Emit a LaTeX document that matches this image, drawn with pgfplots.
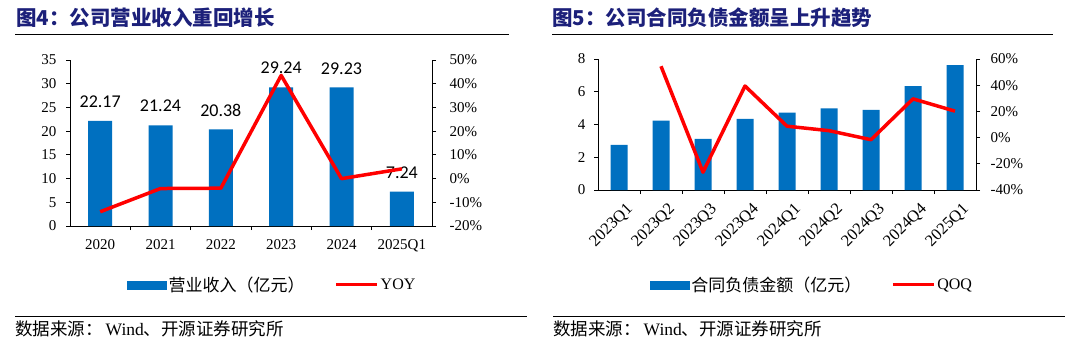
\documentclass[border=0pt]{standalone}
\usepackage{pgfplots}
\pgfplotsset{compat=1.18}
\usepackage{fontspec}
\setmainfont{Liberation Serif}
\newfontfamily\cjk{Noto Sans CJK SC}
\newfontfamily\calib{Carlito}
\definecolor{barblue}{RGB}{0,112,192}
\definecolor{titleblue}{RGB}{28,32,122}
\definecolor{linered}{RGB}{255,0,0}
\pgfplotsset{
  base/.style={scale only axis, anchor=south west, clip=false,
    axis line style={black, line width=0.8pt},
    every tick/.style={black, line width=0.8pt},
    major tick length=4pt, minor tick length=4pt,
    ticklabel style={font=\fontsize{15}{17}\selectfont},
  },
}
\begin{document}
\begin{tikzpicture}
\path[use as bounding box, fill=white] (0pt,0pt) rectangle (1071pt,-346pt);
% titles
\node[anchor=west, inner sep=0pt, text=titleblue, font=\cjk\bfseries\fontsize{20.5}{21}\selectfont] at (16pt,-18pt) {图4：公司营业收入重回增长};
\node[anchor=west, inner sep=0pt, text=titleblue, font=\cjk\bfseries\fontsize{20.5}{21}\selectfont] at (552pt,-18pt) {图5：公司合同负债金额呈上升趋势};
\draw[line width=1pt] (15pt,-34pt) -- (509pt,-34pt);
\draw[line width=1pt] (552pt,-34pt) -- (1053pt,-34pt);
\draw[line width=1pt] (15pt,-316pt) -- (527pt,-316pt);
\draw[line width=1pt] (553pt,-316pt) -- (1065pt,-316pt);
\node[anchor=west, inner sep=0pt, font=\fontsize{17.5}{18}\selectfont] at (15pt,-329pt) {{\cjk 数据来源：}\hspace{3pt}Wind{\cjk 、开源证券研究所}};
\node[anchor=west, inner sep=0pt, font=\fontsize{17.5}{18}\selectfont] at (553pt,-329pt) {{\cjk 数据来源：}\hspace{3pt}Wind{\cjk 、开源证券研究所}};

% ===== left chart: bars =====
\begin{axis}[base, at={(70pt,-226pt)}, width=362pt, height=166pt,
  xmin=-0.5, xmax=5.5, ymin=0, ymax=35,
  axis y line*=left, axis x line*=bottom,
  xtick={0,1,2,3,4,5}, xticklabels={2020,2021,2022,2023,2024,2025Q1},
  xticklabel style={yshift=-6pt},
  yticklabel style={xshift=-6pt},
  major x tick style={draw=none},
  minor xtick={0.5,1.5,2.5,3.5,4.5},
  xtick align=inside, ytick align=outside,
  ytick={0,5,10,15,20,25,30,35}, yticklabels={0,5,10,15,20,25,30,35},
  ybar, bar width=24pt,
  nodes near coords, point meta=explicit symbolic,
  nodes near coords style={font=\calib\fontsize{18}{18}\selectfont, anchor=south, inner sep=0pt, yshift=13pt, text=black},
]
\addplot[fill=barblue, draw=none] coordinates {
  (0,22.17) [22.17]
  (1,21.24) [21.24]
  (2,20.38) [20.38]
  (3,29.24) [29.24]
  (4,29.23) [29.23]
  (5,7.24)  [7.24]
};
\end{axis}
% ===== left chart: YOY line =====
\begin{axis}[base, at={(70pt,-226pt)}, width=362pt, height=166pt,
  xmin=-0.5, xmax=5.5, ymin=-20, ymax=50,
  axis y line*=right, axis x line=none, ytick align=outside,
  yticklabel style={xshift=10pt},
  ytick={-20,-10,0,10,20,30,40,50},
  yticklabels={-20\%,-10\%,0\%,10\%,20\%,30\%,40\%,50\%},
  legend style={at={(0.559,-0.355)}, anchor=center, draw=none, fill=none,
    legend columns=-1, inner sep=0pt, font=\fontsize{16}{18}\selectfont,
    /tikz/every even column/.append style={column sep=28pt},
    nodes={inner sep=2pt}},
]
\addlegendimage{legend image code/.code={\fill[barblue] (0pt,-4pt) rectangle (39pt,4pt);}}
\addlegendentry{\cjk\fontsize{17}{18}\selectfont 营业收入（亿元）}
\addplot[linered, line width=3.5pt, line join=round, mark=none,
  legend image code/.code={\draw[linered, line width=3pt] (0pt,0pt) -- (41pt,0pt);}]
  coordinates {(0,-14.0) (1,-4.2) (2,-4.05) (3,43.5) (4,-0.03) (5,4.1)};
\addlegendentry{YOY}
\end{axis}

% ===== right chart: bars =====
\begin{axis}[base, at={(598pt,-190pt)}, width=378pt, height=131pt,
  xmin=-0.5, xmax=8.5, ymin=0, ymax=8,
  axis y line*=left, axis x line*=bottom,
  xtick={0,1,2,3,4,5,6,7,8},
  xticklabels={2023Q1,2023Q2,2023Q3,2023Q4,2024Q1,2024Q2,2024Q3,2024Q4,2025Q1},
  xticklabel style={rotate=45, anchor=north east, inner sep=1pt, yshift=-9pt, xshift=0pt, font=\fontsize{16.5}{18}\selectfont},
  yticklabel style={xshift=-5pt},
  major x tick style={draw=none},
  minor xtick={0.5,1.5,2.5,3.5,4.5,5.5,6.5,7.5},
  xtick align=inside, ytick align=outside,
  ytick={0,2,4,6,8}, yticklabels={0,2,4,6,8},
  ybar, bar width=17pt,
]
\addplot[fill=barblue, draw=none] coordinates {
  (0,2.76) (1,4.24) (2,3.12) (3,4.35) (4,4.73) (5,4.98) (6,4.90) (7,6.35) (8,7.63)
};
\end{axis}
% ===== right chart: QOQ line =====
\begin{axis}[base, at={(598pt,-190pt)}, width=378pt, height=131pt,
  xmin=-0.5, xmax=8.5, ymin=-40, ymax=60,
  axis y line*=right, axis x line=none, ytick align=outside,
  yticklabel style={xshift=7pt},
  ytick={-40,-20,0,20,40,60},
  yticklabels={-40\%,-20\%,0\%,20\%,40\%,60\%},
  legend style={at={(0.566,-0.725)}, anchor=center, draw=none, fill=none,
    legend columns=-1, inner sep=0pt, font=\fontsize{16}{18}\selectfont,
    /tikz/every even column/.append style={column sep=28pt},
    nodes={inner sep=2pt}},
]
\addlegendimage{legend image code/.code={\fill[barblue] (0pt,-4pt) rectangle (39pt,4pt);}}
\addlegendentry{\cjk\fontsize{17}{18}\selectfont 合同负债金额（亿元）}
\addplot[linered, line width=3.5pt, line join=round, mark=none,
  legend image code/.code={\draw[linered, line width=3pt] (0pt,0pt) -- (41pt,0pt);}]
  coordinates {(1,54.5) (2,-26.4) (3,39.4) (4,8.7) (5,5.3) (6,-1.6) (7,29.6) (8,20.2)};
\addlegendentry{QOQ}
\end{axis}
\end{tikzpicture}
\end{document}
